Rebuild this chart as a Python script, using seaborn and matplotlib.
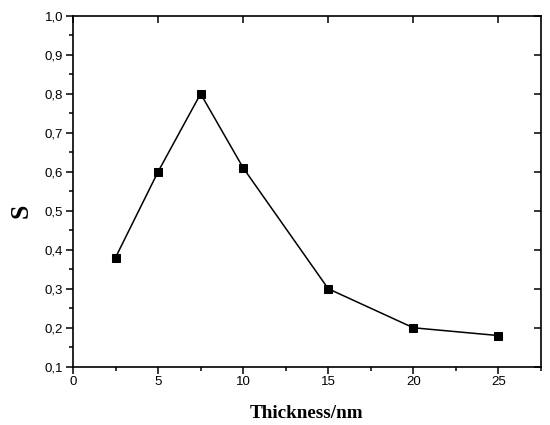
import matplotlib
matplotlib.use("Agg")
import matplotlib.pyplot as plt
import seaborn as sns
import pandas as pd
from matplotlib.ticker import MultipleLocator

thickness = [2.5, 5, 7.5, 10, 15, 20, 25]
s_values = [0.38, 0.60, 0.80, 0.61, 0.30, 0.20, 0.18]
x_ticks = [0, 5, 10, 15, 20, 25]
x_tick_labels = ["0", "5", "10", "15", "20", "25"]
y_ticks = [0.1, 0.2, 0.3, 0.4, 0.5, 0.6, 0.7, 0.8, 0.9, 1.0]
y_tick_labels = ["0,1", "0,2", "0,3", "0,4", "0,5", "0,6", "0,7", "0,8", "0,9", "1,0"]

sns.set_theme(style="white")
plt.rcParams['font.family'] = ['Liberation Sans', 'DejaVu Sans']

df = pd.DataFrame({"Thickness": thickness, "S": s_values})

fig = plt.figure(figsize=(5.5, 4.25), dpi=100)
ax = fig.add_axes([0.1327, 0.137, 0.8509, 0.826])
sns.lineplot(data=df, x="Thickness", y="S", ax=ax, color="black", linewidth=1.1,
             marker="s", markersize=5.5, markeredgecolor="black", markerfacecolor="black")

ax.set_xlim(0, 27.5)
ax.set_ylim(0.1, 1.0)
ax.set_xticks(x_ticks)
ax.set_xticklabels(x_tick_labels)
ax.set_yticks(y_ticks)
ax.set_yticklabels(y_tick_labels)
ax.xaxis.set_minor_locator(MultipleLocator(2.5))
ax.yaxis.set_minor_locator(MultipleLocator(0.05))

for sp in ax.spines.values():
    sp.set_color("black")
    sp.set_linewidth(1.2)

ax.tick_params(which="both", direction="out", color="black", width=1.1,
               bottom=True, left=True, top=False, right=False, labelsize=9.5,
               labelcolor="black", pad=2)
ax.tick_params(which="major", length=5)
ax.tick_params(which="minor", length=3)

top = ax.secondary_xaxis("top")
top.set_xticks(x_ticks)
top.tick_params(direction="in", length=5, width=1.1, color="black", labeltop=False)
top.spines["top"].set_visible(False)
right = ax.secondary_yaxis("right")
right.set_yticks(y_ticks)
right.tick_params(direction="in", length=5, width=1.1, color="black", labelright=False)
right.spines["right"].set_visible(False)

ax.set_xlabel("Thickness/nm", family=["Liberation Serif", "DejaVu Serif"],
              fontweight="bold", fontsize=13.8, color="black", labelpad=12)
ax.set_ylabel("S", family=["Liberation Serif", "DejaVu Serif"],
              fontweight="bold", fontsize=18.5, color="black")
ax.yaxis.set_label_coords(-0.087, 0.444)

fig.savefig("out.png", dpi=100)
